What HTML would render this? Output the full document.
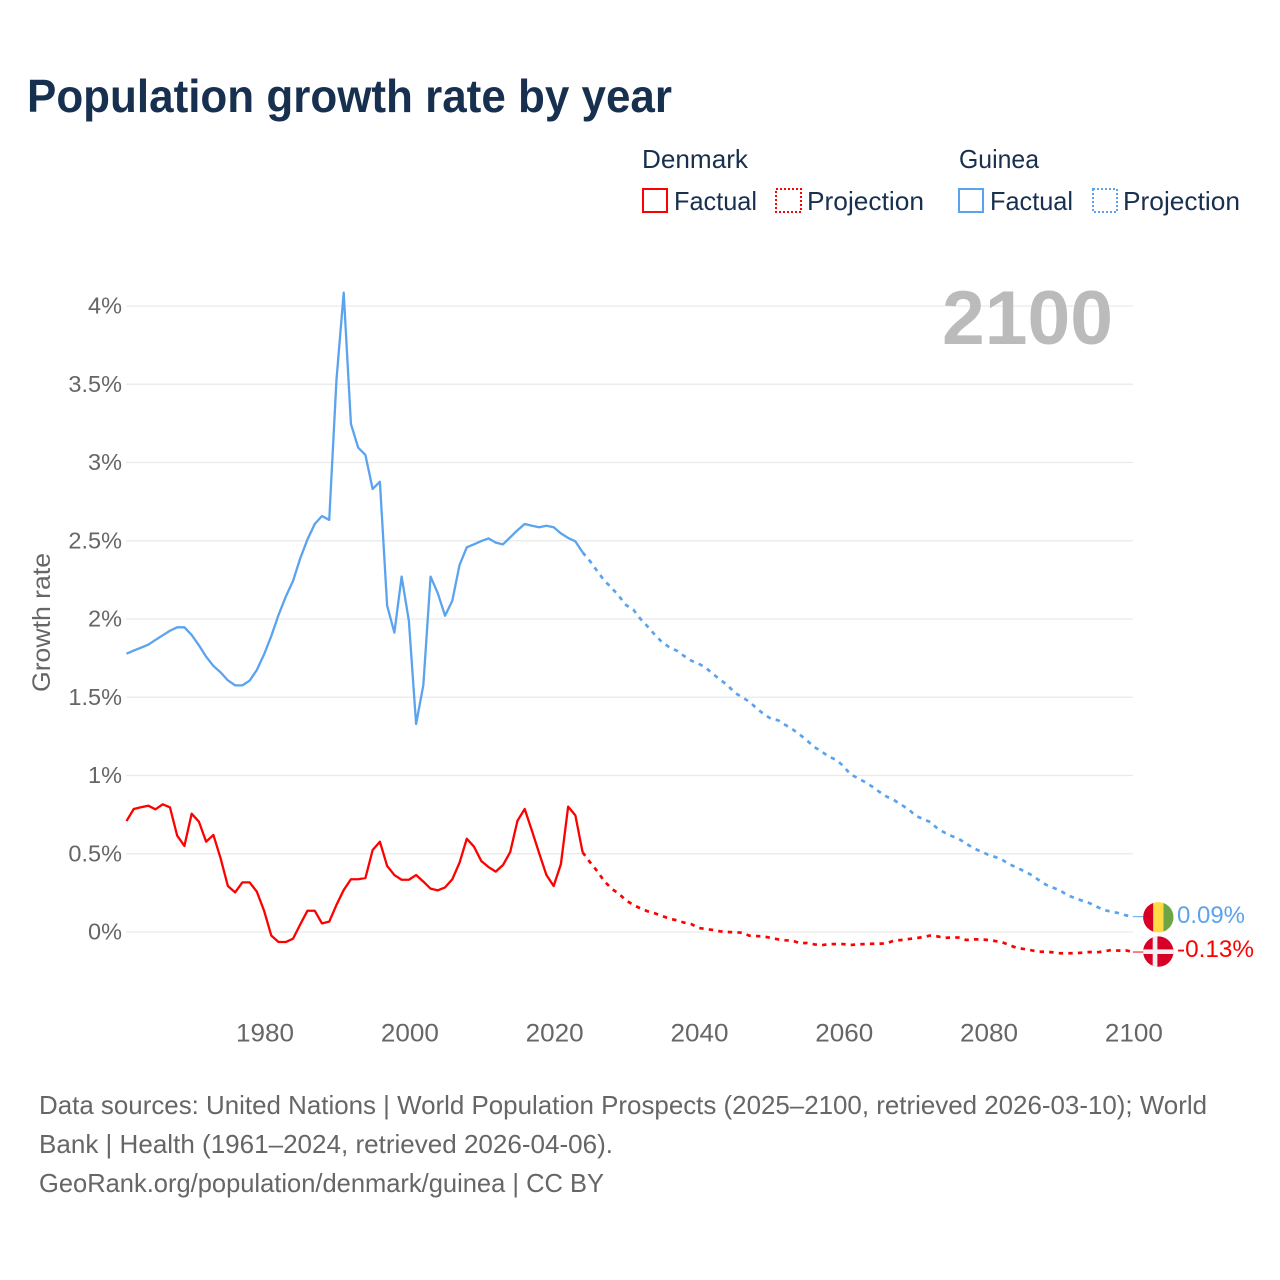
<!DOCTYPE html>
<html lang="en">
<head>
<meta charset="utf-8">
<title>Population growth rate by year</title>
<style>
  html, body { margin: 0; padding: 0; background: #fff; }
  svg { display: block; }
  text { font-family: "Liberation Sans", sans-serif; }
</style>
</head>
<body>
<svg id="chart" width="1280" height="1280" viewBox="0 0 1280 1280" xmlns="http://www.w3.org/2000/svg">
  <defs>
    <clipPath id="clip-guinea"><circle cx="1158.3" cy="917.3" r="15.2"/></clipPath>
    <clipPath id="clip-denmark"><circle cx="1158.3" cy="951.6" r="15.2"/></clipPath>
  </defs>
  <rect width="1280" height="1280" fill="#fff"/>

  <text x="27" y="112" font-size="46" font-weight="700" fill="#18304f" textLength="645" lengthAdjust="spacingAndGlyphs">Population growth rate by year</text>

  <g font-size="26" fill="#18304f">
    <text x="642" y="168" textLength="106" lengthAdjust="spacingAndGlyphs">Denmark</text>
    <text x="959" y="168" textLength="80" lengthAdjust="spacingAndGlyphs">Guinea</text>
    <g>
      <rect x="643" y="189" width="24" height="23" fill="none" stroke="#ff0000" stroke-width="2"/>
      <text x="674" y="210" textLength="83" lengthAdjust="spacingAndGlyphs">Factual</text>
    </g>
    <g>
      <rect x="776" y="189" width="25" height="23" fill="none" stroke="#ff0000" stroke-width="2" stroke-dasharray="2 2"/>
      <text x="807" y="210" textLength="117" lengthAdjust="spacingAndGlyphs">Projection</text>
    </g>
    <g>
      <rect x="959" y="189" width="24" height="23" fill="none" stroke="#5ba3ee" stroke-width="2"/>
      <text x="990" y="210" textLength="83" lengthAdjust="spacingAndGlyphs">Factual</text>
    </g>
    <g>
      <rect x="1093" y="189" width="24" height="23" fill="none" stroke="#5ba3ee" stroke-width="2" stroke-dasharray="2 2"/>
      <text x="1123" y="210" textLength="117" lengthAdjust="spacingAndGlyphs">Projection</text>
    </g>
  </g>

  <g id="grid"></g>
  <g id="y-ticks"></g>
  <g id="x-ticks"></g>

  <text x="0" y="0" transform="translate(50 692) rotate(-90)" font-size="25" fill="#666" textLength="139" lengthAdjust="spacingAndGlyphs">Growth rate</text>

  <text x="942" y="344" font-size="76" font-weight="700" fill="#bbbbbb" textLength="171" lengthAdjust="spacingAndGlyphs">2100</text>

  <g id="series"></g>

  <g clip-path="url(#clip-guinea)">
    <rect x="1143" y="902" width="10.3" height="31" fill="#d80027"/>
    <rect x="1153.3" y="902" width="10.2" height="31" fill="#ffda44"/>
    <rect x="1163.5" y="902" width="10.2" height="31" fill="#6da544"/>
  </g>
  <g clip-path="url(#clip-denmark)">
    <rect x="1143" y="936" width="31" height="31" fill="#d80027"/>
    <rect x="1152.7" y="936" width="4.7" height="31" fill="#f0f0f0"/>
    <rect x="1143" y="949.4" width="31" height="4.6" fill="#f0f0f0"/>
  </g>
  <g id="end-labels"></g>

  <g font-size="26" fill="#666">
    <text x="39" y="1114" textLength="1168" lengthAdjust="spacingAndGlyphs">Data sources: United Nations | World Population Prospects (2025–2100, retrieved 2026-03-10); World</text>
    <text x="39" y="1153" textLength="574" lengthAdjust="spacingAndGlyphs">Bank | Health (1961–2024, retrieved 2026-04-06).</text>
    <text x="39" y="1192" textLength="565" lengthAdjust="spacingAndGlyphs">GeoRank.org/population/denmark/guinea | CC BY</text>
  </g>
</svg>

<script>
const yTickValues = [0, 0.5, 1, 1.5, 2, 2.5, 3, 3.5, 4];
const yTickLabels = ["0%", "0.5%", "1%", "1.5%", "2%", "2.5%", "3%", "3.5%", "4%"];
const xTickValues = [1980, 2000, 2020, 2040, 2060, 2080, 2100];
const xTickLabels = ["1980", "2000", "2020", "2040", "2060", "2080", "2100"];

const factualStartYear = 1961;
const projectionStartYear = 2024;

const guineaFactual = [
  1.778, 1.798, 1.817, 1.836, 1.866, 1.896, 1.925, 1.947, 1.947, 1.898,
  1.832, 1.759, 1.700, 1.659, 1.608, 1.576, 1.576, 1.606, 1.674, 1.774,
  1.891, 2.026, 2.143, 2.243, 2.388, 2.509, 2.607, 2.658, 2.633, 3.527,
  4.085, 3.246, 3.095, 3.048, 2.831, 2.877, 2.085, 1.913, 2.271, 1.989,
  1.329, 1.578, 2.271, 2.164, 2.021, 2.117, 2.345, 2.458, 2.477, 2.498,
  2.515, 2.488, 2.477, 2.522, 2.567, 2.607, 2.596, 2.586, 2.596, 2.586,
  2.547, 2.518, 2.496, 2.426
];
const guineaProjection = [
  2.426, 2.371, 2.307, 2.245, 2.200, 2.147, 2.089, 2.060, 2.000, 1.951,
  1.898, 1.851, 1.819, 1.798, 1.764, 1.734, 1.715, 1.689, 1.649, 1.612,
  1.578, 1.529, 1.502, 1.472, 1.431, 1.393, 1.363, 1.353, 1.323, 1.295,
  1.261, 1.223, 1.182, 1.154, 1.120, 1.101, 1.061, 1.007, 0.984, 0.958,
  0.929, 0.895, 0.865, 0.843, 0.814, 0.784, 0.743, 0.722, 0.703, 0.662,
  0.635, 0.613, 0.594, 0.564, 0.535, 0.515, 0.494, 0.479, 0.460, 0.432,
  0.411, 0.388, 0.364, 0.332, 0.302, 0.283, 0.264, 0.234, 0.217, 0.200,
  0.185, 0.162, 0.141, 0.130, 0.121, 0.107, 0.098
];
const denmarkFactual = [
  0.709, 0.786, 0.797, 0.807, 0.784, 0.816, 0.797, 0.616, 0.550, 0.756,
  0.705, 0.577, 0.620, 0.471, 0.294, 0.253, 0.317, 0.317, 0.258, 0.136,
  -0.023, -0.064, -0.064, -0.043, 0.049, 0.136, 0.136, 0.055, 0.066, 0.173,
  0.268, 0.337, 0.337, 0.345, 0.524, 0.577, 0.422, 0.364, 0.334, 0.334,
  0.364, 0.322, 0.277, 0.266, 0.285, 0.337, 0.443, 0.596, 0.545, 0.454,
  0.415, 0.386, 0.428, 0.511, 0.711, 0.786, 0.647, 0.503, 0.364, 0.294,
  0.434, 0.801, 0.745, 0.509
];
const denmarkProjection = [
  0.509, 0.447, 0.390, 0.324, 0.277, 0.245, 0.202, 0.173, 0.151, 0.132,
  0.119, 0.102, 0.085, 0.075, 0.060, 0.051, 0.026, 0.019, 0.013, 0.004,
  0.000, -0.002, -0.004, -0.023, -0.026, -0.028, -0.038, -0.047, -0.053, -0.055,
  -0.072, -0.070, -0.079, -0.085, -0.077, -0.077, -0.077, -0.083, -0.079, -0.077,
  -0.075, -0.075, -0.072, -0.055, -0.051, -0.045, -0.040, -0.032, -0.023, -0.028,
  -0.038, -0.034, -0.036, -0.051, -0.047, -0.047, -0.051, -0.058, -0.066, -0.085,
  -0.102, -0.109, -0.117, -0.126, -0.126, -0.130, -0.136, -0.136, -0.136, -0.132,
  -0.128, -0.130, -0.124, -0.115, -0.119, -0.117, -0.128
];
const endLabelTexts = ["0.09%", "-0.13%"];

const SVG_NS = "http://www.w3.org/2000/svg";
const RED = "#ff0000";
const BLUE = "#5ba3ee";

function xScale(year) { return 126.5 + (year - 1961) * 7.24; }
function yScale(value) { return 932 - value * 156.5; }

function linePath(startYear, values) {
  return values.map(function (v, i) {
    return (i ? "L" : "M") + xScale(startYear + i).toFixed(2) + " " + yScale(v).toFixed(2);
  }).join("");
}

const grid = document.getElementById("grid");
const yTicks = document.getElementById("y-ticks");
yTickValues.forEach(function (v, i) {
  const line = document.createElementNS(SVG_NS, "line");
  
  
  line.setAttribute("x1", xScale(1961) - 0.5);
  line.setAttribute("x2", xScale(2100));
  line.setAttribute("y1", yScale(v));
  line.setAttribute("y2", yScale(v));
  line.setAttribute("stroke", "#e9e9e9");
  line.setAttribute("stroke-width", "1.3");
  grid.appendChild(line);

  const t = document.createElementNS(SVG_NS, "text");
  
  
  t.setAttribute("x", 122);
  t.setAttribute("y", yScale(v) + 7.5);
  t.setAttribute("text-anchor", "end");
  t.setAttribute("font-size", "23.5");
  t.setAttribute("fill", "#666");
  t.textContent = yTickLabels[i];
  yTicks.appendChild(t);
});

const xTicks = document.getElementById("x-ticks");
xTickValues.forEach(function (v, i) {
  const t = document.createElementNS(SVG_NS, "text");
  
  
  t.setAttribute("x", xScale(v) + 1);
  t.setAttribute("y", 1041.5);
  t.setAttribute("text-anchor", "middle");
  t.setAttribute("font-size", "25");
  t.setAttribute("fill", "#666");
  t.setAttribute("textLength", "58");
  t.setAttribute("lengthAdjust", "spacingAndGlyphs");
  t.textContent = xTickLabels[i];
  xTicks.appendChild(t);
});

const series = document.getElementById("series");

function addLine(name, startYear, values, color, dash) {
  const p = document.createElementNS(SVG_NS, "path");
  
  
  p.setAttribute("d", linePath(startYear, values));
  p.setAttribute("fill", "none");
  p.setAttribute("stroke", color);
  p.setAttribute("stroke-width", dash ? "2.7" : "2.3");
  p.setAttribute("stroke-linejoin", "round");
  if (dash) { p.setAttribute("stroke-dasharray", dash); }
  series.appendChild(p);
}

function addConnector(name, value, color) {
  const c = document.createElementNS(SVG_NS, "line");
  
  
  c.setAttribute("x1", xScale(2100));
  c.setAttribute("x2", 1143);
  c.setAttribute("y1", yScale(value));
  c.setAttribute("y2", yScale(value));
  c.setAttribute("stroke", color);
  c.setAttribute("stroke-width", "1");
  series.appendChild(c);
}

addLine("guinea-factual-line", factualStartYear, guineaFactual, BLUE, null);
addLine("guinea-projection-line", projectionStartYear, guineaProjection, BLUE, "4.4 5.2");
addLine("denmark-factual-line", factualStartYear, denmarkFactual, RED, null);
addLine("denmark-projection-line", projectionStartYear, denmarkProjection, RED, "4.4 5.2");
addConnector("guinea-end-connector", guineaProjection[guineaProjection.length - 1], BLUE);
addConnector("denmark-end-connector", denmarkProjection[denmarkProjection.length - 1], RED);

const endLabels = document.getElementById("end-labels");

const guineaEnd = document.createElementNS(SVG_NS, "text");


guineaEnd.setAttribute("x", 1177);
guineaEnd.setAttribute("y", 923);
guineaEnd.setAttribute("font-size", "24");
guineaEnd.setAttribute("fill", BLUE);
guineaEnd.setAttribute("textLength", "68");
guineaEnd.setAttribute("lengthAdjust", "spacingAndGlyphs");
guineaEnd.textContent = endLabelTexts[0];
endLabels.appendChild(guineaEnd);

const denmarkEnd = document.createElementNS(SVG_NS, "text");


denmarkEnd.setAttribute("x", 1177);
denmarkEnd.setAttribute("y", 957);
denmarkEnd.setAttribute("font-size", "24");
denmarkEnd.setAttribute("fill", RED);
denmarkEnd.setAttribute("textLength", "77");
denmarkEnd.setAttribute("lengthAdjust", "spacingAndGlyphs");
denmarkEnd.textContent = endLabelTexts[1];
endLabels.appendChild(denmarkEnd);
</script>
</body>
</html>
